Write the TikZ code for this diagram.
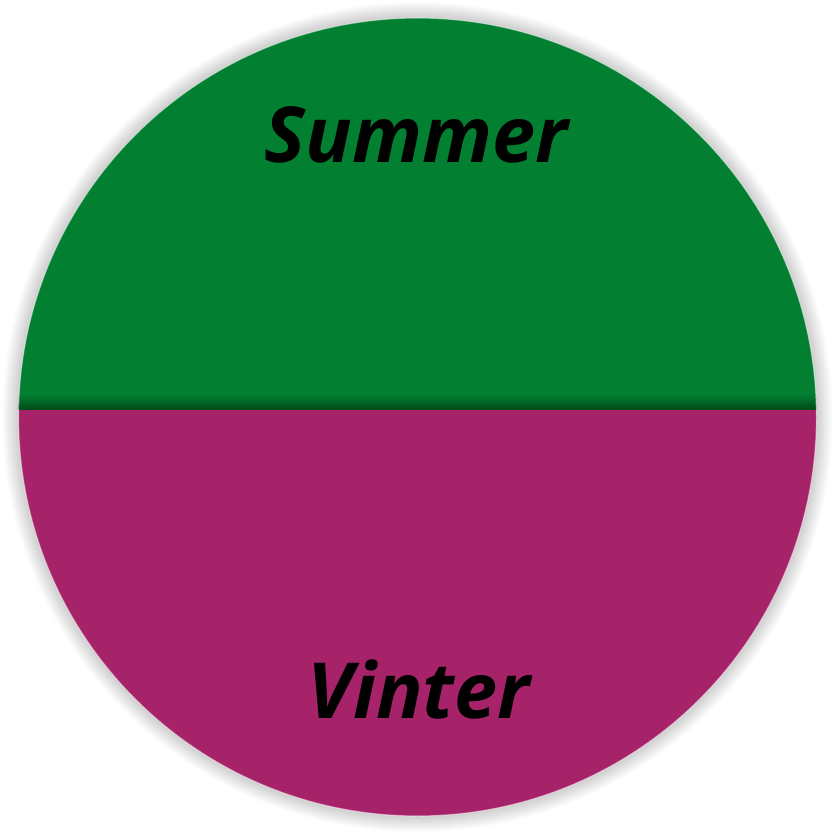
\documentclass[tikz,border=0pt]{standalone}
\usepackage{fontspec}
\setmainfont{Open Sans}
\definecolor{sgreen}{HTML}{027F30}
\definecolor{dgreen}{HTML}{014A1B}
\definecolor{wmag}{HTML}{A6236A}
\tikzset{
  seasonlabel/.style={anchor=base, text=black, font=\fontsize{66}{70}\selectfont\bfseries\itshape, inner sep=0pt}
}
\begin{document}
\begin{tikzpicture}[x=0.03cm,y=-0.03cm]
\useasboundingbox[fill=white] (0,0) rectangle (836,836);
% soft outer glow
\foreach \k in {16,15,...,1}{
  \fill[black,opacity=0.012] (417.5,417) circle[radius=399+\k];
}
\begin{scope}
  \clip (417.5,417) circle[radius=399];
  \fill[sgreen] (0,0) rectangle (836,409.5);
  \fill[wmag] (0,409.5) rectangle (836,836);
  \shade[top color=sgreen, bottom color=dgreen] (0,394) rectangle (836,409.5);
\end{scope}
\draw[white,opacity=0.5,line width=1pt] (417.5,417) circle[radius=399];
\node[seasonlabel] (summer) at (416,162) {Summer};
\node[seasonlabel] (vinter) at (419,718) {Vinter};
\end{tikzpicture}
\end{document}
